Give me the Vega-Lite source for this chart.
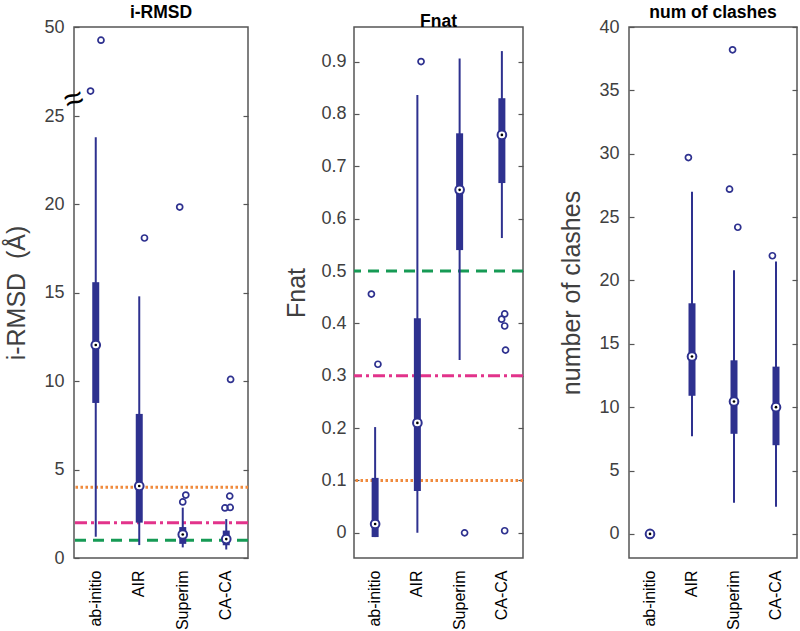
{
  "$schema": "https://vega.github.io/schema/vega-lite/v6.json",
  "padding": {"left": 4, "top": 2, "right": 0, "bottom": 0},
  "background": "white",
  "config": {
    "font": "Liberation Sans",
    "view": {"stroke": "#555555", "strokeWidth": 1.5},
    "title": {"fontSize": 17.5, "fontWeight": "bold", "color": "#000000", "font": "Liberation Sans", "offset": -3},
    "axis": {"labelFont": "Liberation Sans", "titleFont": "Liberation Sans", "labelColor": "#404040", "titleColor": "#404040", "titleFontWeight": "normal", "grid": false, "domain": false}
  },
  "datasets": {
    "boxes": [
      {"metric": "irmsd", "method": "ab-initio", "lo": 1.2, "q1": 8.77, "med": 12.05, "q3": 15.6, "hi": 23.8},
      {"metric": "irmsd", "method": "AIR", "lo": 0.73, "q1": 2.0, "med": 4.07, "q3": 8.15, "hi": 14.8},
      {"metric": "irmsd", "method": "Superim", "lo": 0.6, "q1": 0.8, "med": 1.33, "q3": 1.75, "hi": 2.85},
      {"metric": "irmsd", "method": "CA-CA", "lo": 0.48, "q1": 0.72, "med": 1.07, "q3": 1.55, "hi": 2.2},
      {"metric": "fnat", "method": "ab-initio", "lo": -0.008, "q1": -0.008, "med": 0.017, "q3": 0.105, "hi": 0.202},
      {"metric": "fnat", "method": "AIR", "lo": 0.0, "q1": 0.08, "med": 0.21, "q3": 0.41, "hi": 0.836},
      {"metric": "fnat", "method": "Superim", "lo": 0.33, "q1": 0.54, "med": 0.655, "q3": 0.763, "hi": 0.906},
      {"metric": "fnat", "method": "CA-CA", "lo": 0.563, "q1": 0.668, "med": 0.76, "q3": 0.83, "hi": 0.92},
      {"metric": "clashes", "method": "ab-initio", "lo": 0, "q1": 0, "med": 0, "q3": 0, "hi": 0},
      {"metric": "clashes", "method": "AIR", "lo": 7.7, "q1": 10.9, "med": 14.0, "q3": 18.2, "hi": 27.0},
      {"metric": "clashes", "method": "Superim", "lo": 2.45, "q1": 7.9, "med": 10.45, "q3": 13.7, "hi": 20.8},
      {"metric": "clashes", "method": "CA-CA", "lo": 2.15, "q1": 7.0, "med": 10.0, "q3": 13.2, "hi": 21.5}
    ],
    "outliers": [
      {"metric": "irmsd", "method": "ab-initio", "value": 32.0, "jitter": -0.12},
      {"metric": "irmsd", "method": "ab-initio", "value": 46.3, "jitter": 0.12},
      {"metric": "irmsd", "method": "AIR", "value": 18.1, "jitter": 0.12},
      {"metric": "irmsd", "method": "Superim", "value": 19.85, "jitter": -0.07},
      {"metric": "irmsd", "method": "Superim", "value": 3.17, "jitter": 0.0},
      {"metric": "irmsd", "method": "Superim", "value": 3.56, "jitter": 0.07},
      {"metric": "irmsd", "method": "CA-CA", "value": 10.1, "jitter": 0.1},
      {"metric": "irmsd", "method": "CA-CA", "value": 2.83, "jitter": -0.03},
      {"metric": "irmsd", "method": "CA-CA", "value": 2.86, "jitter": 0.09},
      {"metric": "irmsd", "method": "CA-CA", "value": 3.5, "jitter": 0.08},
      {"metric": "fnat", "method": "ab-initio", "value": 0.456, "jitter": -0.1},
      {"metric": "fnat", "method": "ab-initio", "value": 0.322, "jitter": 0.05},
      {"metric": "fnat", "method": "AIR", "value": 0.9, "jitter": 0.07},
      {"metric": "fnat", "method": "Superim", "value": 0.0, "jitter": 0.1},
      {"metric": "fnat", "method": "CA-CA", "value": 0.418, "jitter": 0.05},
      {"metric": "fnat", "method": "CA-CA", "value": 0.408, "jitter": -0.02},
      {"metric": "fnat", "method": "CA-CA", "value": 0.395, "jitter": 0.05},
      {"metric": "fnat", "method": "CA-CA", "value": 0.349, "jitter": 0.07},
      {"metric": "fnat", "method": "CA-CA", "value": 0.004, "jitter": 0.05},
      {"metric": "clashes", "method": "AIR", "value": 29.7, "jitter": -0.1},
      {"metric": "clashes", "method": "Superim", "value": 38.2, "jitter": -0.05},
      {"metric": "clashes", "method": "Superim", "value": 27.2, "jitter": -0.12},
      {"metric": "clashes", "method": "Superim", "value": 24.2, "jitter": 0.07},
      {"metric": "clashes", "method": "CA-CA", "value": 21.95, "jitter": -0.1}
    ],
    "refs": [
      {"metric": "irmsd", "value": 4, "kind": "orange"},
      {"metric": "irmsd", "value": 2, "kind": "magenta"},
      {"metric": "irmsd", "value": 1, "kind": "green"},
      {"metric": "fnat", "value": 0.1, "kind": "orange"},
      {"metric": "fnat", "value": 0.3, "kind": "magenta"},
      {"metric": "fnat", "value": 0.5, "kind": "green"}
    ],
    "breakmark": [{"symbol": "≈"}]
  },
  "spacing": 33,
  "hconcat": [
    {
      "width": 174,
      "height": 531,
      "title": "i-RMSD",
      "resolve": {"axis": {"y": "independent"}},
      "layer": [
        {
          "data": {"name": "refs"},
          "transform": [{"filter": "datum.metric === 'irmsd'"}],
          "mark": {"type": "rule", "strokeWidth": 3},
          "encoding": {
            "y": {"field": "value", "type": "quantitative", "scale": {"type": "linear", "domain": [0, 25, 50], "range": [531, 89, 0], "nice": false, "zero": false}, "axis": {"orient": "right", "values": [0, 5, 10, 15, 20, 25], "labels": false, "tickSize": -5, "tickColor": "#555555", "tickWidth": 1.2, "title": null}},
            "color": {"field": "kind", "type": "nominal", "scale": {"domain": ["orange", "magenta", "green"], "range": ["#f08a3c", "#e2338b", "#169a55"]}, "legend": null},
            "strokeDash": {"field": "kind", "type": "nominal", "scale": {"domain": ["orange", "magenta", "green"], "range": [[2.5, 2.5], [12, 4, 3, 4], [11, 7]]}, "legend": null}
          }
        },
        {
          "data": {"name": "boxes"},
          "transform": [{"filter": "datum.metric === 'irmsd'"}],
          "mark": {"type": "rule", "color": "#2e318f", "strokeWidth": 2},
          "encoding": {
            "x": {"field": "method", "type": "nominal", "sort": ["ab-initio", "AIR", "Superim", "CA-CA"], "scale": {"domain": ["ab-initio", "AIR", "Superim", "CA-CA"], "paddingInner": 0, "paddingOuter": 0}, "axis": {"title": null, "ticks": false, "labelAngle": 270, "labelFontSize": 16, "labelPadding": 12, "labelColor": "#000000"}},
            "y": {"field": "lo", "type": "quantitative", "axis": {"orient": "left", "values": [0, 5, 10, 15, 20, 25, 50], "tickSize": -5, "tickColor": "#555555", "tickWidth": 1.2, "labelFontSize": 18, "labelPadding": 15, "title": "i-RMSD\u00a0\u00a0(Å)", "titleFontSize": 25, "titlePadding": 14}},
            "y2": {"field": "hi"}
          }
        },
        {
          "data": {"name": "boxes"},
          "transform": [{"filter": "datum.metric === 'irmsd'"}],
          "mark": {"type": "bar", "color": "#2e318f", "width": 7},
          "encoding": {
            "x": {"field": "method", "type": "nominal", "sort": ["ab-initio", "AIR", "Superim", "CA-CA"]},
            "y": {"field": "q1", "type": "quantitative", "axis": null},
            "y2": {"field": "q3"}
          }
        },
        {
          "data": {"name": "boxes"},
          "transform": [{"filter": "datum.metric === 'irmsd'"}],
          "mark": {"type": "point", "shape": "circle", "filled": true, "fill": "white", "stroke": "#2e318f", "strokeWidth": 2, "size": 75, "opacity": 1},
          "encoding": {
            "x": {"field": "method", "type": "nominal", "sort": ["ab-initio", "AIR", "Superim", "CA-CA"]},
            "y": {"field": "med", "type": "quantitative", "axis": null}
          }
        },
        {
          "data": {"name": "boxes"},
          "transform": [{"filter": "datum.metric === 'irmsd'"}],
          "mark": {"type": "point", "shape": "circle", "filled": true, "color": "#000000", "size": 7, "opacity": 1},
          "encoding": {
            "x": {"field": "method", "type": "nominal", "sort": ["ab-initio", "AIR", "Superim", "CA-CA"]},
            "y": {"field": "med", "type": "quantitative", "axis": null}
          }
        },
        {
          "data": {"name": "outliers"},
          "transform": [{"filter": "datum.metric === 'irmsd'"}],
          "mark": {"type": "point", "shape": "circle", "filled": false, "color": "#2e318f", "strokeWidth": 1.7, "size": 36, "opacity": 1},
          "encoding": {
            "x": {"field": "method", "type": "nominal", "sort": ["ab-initio", "AIR", "Superim", "CA-CA"]},
            "xOffset": {"field": "jitter", "type": "quantitative", "scale": {"domain": [-0.5, 0.5]}},
            "y": {"field": "value", "type": "quantitative", "axis": null}
          }
        },
        {
          "data": {"name": "breakmark"},
          "mark": {"type": "text", "fontSize": 34, "angle": 340, "color": "#000000", "baseline": "middle", "align": "center"},
          "encoding": {
            "text": {"field": "symbol"},
            "x": {"datum": "ab-initio", "bandPosition": 0},
            "y": {"datum": 29.5, "type": "quantitative", "axis": null}
          }
        }
      ]
    },
    {
      "width": 169,
      "height": 531,
      "title": "Fnat",
      "resolve": {"axis": {"y": "independent"}},
      "layer": [
        {
          "data": {"name": "refs"},
          "transform": [{"filter": "datum.metric === 'fnat'"}],
          "mark": {"type": "rule", "strokeWidth": 3},
          "encoding": {
            "y": {"field": "value", "type": "quantitative", "scale": {"domain": [-0.048, 0.966], "nice": false, "zero": false}, "axis": {"orient": "right", "values": [0, 0.1, 0.2, 0.3, 0.4, 0.5, 0.6, 0.7, 0.8, 0.9], "labels": false, "tickSize": -5, "tickColor": "#555555", "tickWidth": 1.2, "title": null}},
            "color": {"field": "kind", "type": "nominal", "scale": {"domain": ["orange", "magenta", "green"], "range": ["#f08a3c", "#e2338b", "#169a55"]}, "legend": null},
            "strokeDash": {"field": "kind", "type": "nominal", "scale": {"domain": ["orange", "magenta", "green"], "range": [[2.5, 2.5], [12, 4, 3, 4], [11, 7]]}, "legend": null}
          }
        },
        {
          "data": {"name": "boxes"},
          "transform": [{"filter": "datum.metric === 'fnat'"}],
          "mark": {"type": "rule", "color": "#2e318f", "strokeWidth": 2},
          "encoding": {
            "x": {"field": "method", "type": "nominal", "sort": ["ab-initio", "AIR", "Superim", "CA-CA"], "scale": {"domain": ["ab-initio", "AIR", "Superim", "CA-CA"], "paddingInner": 0, "paddingOuter": 0}, "axis": {"title": null, "ticks": false, "labelAngle": 270, "labelFontSize": 16, "labelPadding": 12, "labelColor": "#000000"}},
            "y": {"field": "lo", "type": "quantitative", "axis": {"orient": "left", "values": [0, 0.1, 0.2, 0.3, 0.4, 0.5, 0.6, 0.7, 0.8, 0.9], "format": "~g", "tickSize": -5, "tickColor": "#555555", "tickWidth": 1.2, "labelFontSize": 18, "labelPadding": 13, "title": "Fnat", "titleFontSize": 25, "titlePadding": 11}},
            "y2": {"field": "hi"}
          }
        },
        {
          "data": {"name": "boxes"},
          "transform": [{"filter": "datum.metric === 'fnat'"}],
          "mark": {"type": "bar", "color": "#2e318f", "width": 7},
          "encoding": {
            "x": {"field": "method", "type": "nominal", "sort": ["ab-initio", "AIR", "Superim", "CA-CA"]},
            "y": {"field": "q1", "type": "quantitative", "axis": null},
            "y2": {"field": "q3"}
          }
        },
        {
          "data": {"name": "boxes"},
          "transform": [{"filter": "datum.metric === 'fnat'"}],
          "mark": {"type": "point", "shape": "circle", "filled": true, "fill": "white", "stroke": "#2e318f", "strokeWidth": 2, "size": 75, "opacity": 1},
          "encoding": {
            "x": {"field": "method", "type": "nominal", "sort": ["ab-initio", "AIR", "Superim", "CA-CA"]},
            "y": {"field": "med", "type": "quantitative", "axis": null}
          }
        },
        {
          "data": {"name": "boxes"},
          "transform": [{"filter": "datum.metric === 'fnat'"}],
          "mark": {"type": "point", "shape": "circle", "filled": true, "color": "#000000", "size": 7, "opacity": 1},
          "encoding": {
            "x": {"field": "method", "type": "nominal", "sort": ["ab-initio", "AIR", "Superim", "CA-CA"]},
            "y": {"field": "med", "type": "quantitative", "axis": null}
          }
        },
        {
          "data": {"name": "outliers"},
          "transform": [{"filter": "datum.metric === 'fnat'"}],
          "mark": {"type": "point", "shape": "circle", "filled": false, "color": "#2e318f", "strokeWidth": 1.7, "size": 36, "opacity": 1},
          "encoding": {
            "x": {"field": "method", "type": "nominal", "sort": ["ab-initio", "AIR", "Superim", "CA-CA"]},
            "xOffset": {"field": "jitter", "type": "quantitative", "scale": {"domain": [-0.5, 0.5]}},
            "y": {"field": "value", "type": "quantitative", "axis": null}
          }
        }
      ]
    },
    {
      "width": 168,
      "height": 531,
      "title": "num of clashes",
      "resolve": {"axis": {"y": "independent"}},
      "layer": [
        {
          "data": {"name": "boxes"},
          "transform": [{"filter": "datum.metric === 'clashes'"}],
          "mark": {"type": "rule", "color": "#2e318f", "strokeWidth": 2},
          "encoding": {
            "x": {"field": "method", "type": "nominal", "sort": ["ab-initio", "AIR", "Superim", "CA-CA"], "scale": {"domain": ["ab-initio", "AIR", "Superim", "CA-CA"], "paddingInner": 0, "paddingOuter": 0}, "axis": {"title": null, "ticks": false, "labelAngle": 270, "labelFontSize": 16, "labelPadding": 12, "labelColor": "#000000"}},
            "y": {"field": "lo", "type": "quantitative", "scale": {"domain": [-1.9, 40], "nice": false, "zero": false}, "axis": {"orient": "left", "values": [0, 5, 10, 15, 20, 25, 30, 35, 40], "tickSize": -5, "tickColor": "#555555", "tickWidth": 1.2, "labelFontSize": 18, "labelPadding": 15, "title": "number of clashes", "titleFontSize": 25, "titlePadding": 14}},
            "y2": {"field": "hi"}
          }
        },
        {
          "data": {"name": "boxes"},
          "transform": [{"filter": "datum.metric === 'clashes'"}],
          "mark": {"type": "bar", "color": "#2e318f", "width": 7},
          "encoding": {
            "x": {"field": "method", "type": "nominal", "sort": ["ab-initio", "AIR", "Superim", "CA-CA"]},
            "y": {"field": "q1", "type": "quantitative", "axis": {"orient": "right", "values": [0, 5, 10, 15, 20, 25, 30, 35, 40], "labels": false, "tickSize": -5, "tickColor": "#555555", "tickWidth": 1.2, "title": null}},
            "y2": {"field": "q3"}
          }
        },
        {
          "data": {"name": "boxes"},
          "transform": [{"filter": "datum.metric === 'clashes'"}],
          "mark": {"type": "point", "shape": "circle", "filled": true, "fill": "white", "stroke": "#2e318f", "strokeWidth": 2, "size": 75, "opacity": 1},
          "encoding": {
            "x": {"field": "method", "type": "nominal", "sort": ["ab-initio", "AIR", "Superim", "CA-CA"]},
            "y": {"field": "med", "type": "quantitative", "axis": null}
          }
        },
        {
          "data": {"name": "boxes"},
          "transform": [{"filter": "datum.metric === 'clashes'"}],
          "mark": {"type": "point", "shape": "circle", "filled": true, "color": "#000000", "size": 7, "opacity": 1},
          "encoding": {
            "x": {"field": "method", "type": "nominal", "sort": ["ab-initio", "AIR", "Superim", "CA-CA"]},
            "y": {"field": "med", "type": "quantitative", "axis": null}
          }
        },
        {
          "data": {"name": "outliers"},
          "transform": [{"filter": "datum.metric === 'clashes'"}],
          "mark": {"type": "point", "shape": "circle", "filled": false, "color": "#2e318f", "strokeWidth": 1.7, "size": 36, "opacity": 1},
          "encoding": {
            "x": {"field": "method", "type": "nominal", "sort": ["ab-initio", "AIR", "Superim", "CA-CA"]},
            "xOffset": {"field": "jitter", "type": "quantitative", "scale": {"domain": [-0.5, 0.5]}},
            "y": {"field": "value", "type": "quantitative", "axis": null}
          }
        }
      ]
    }
  ]
}
